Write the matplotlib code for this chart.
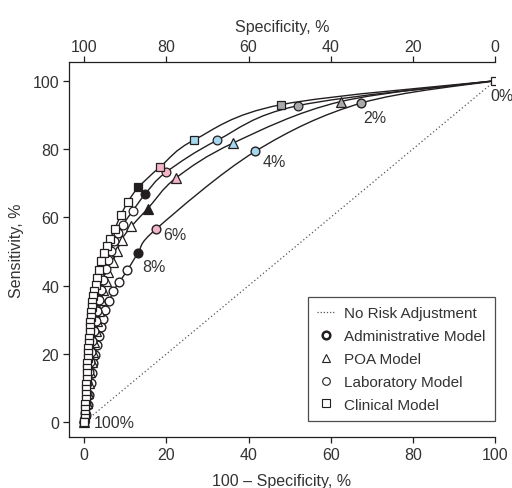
import matplotlib
matplotlib.use("Agg")
import matplotlib.pyplot as plt
from matplotlib.path import Path
from matplotlib.patches import PathPatch
from matplotlib.lines import Line2D

plt.rcParams['font.family'] = ['Liberation Sans', 'DejaVu Sans']

# ---- data: (100 - specificity, sensitivity), from threshold 0% down to 100%
adm_x = [100, 67.5, 41.6, 17.5, 13.1, 10.5, 8.5, 7.1, 6.1, 5.1, 4.5, 4.0, 3.5, 3.1, 2.7, 2.2, 1.9, 1.6, 1.2, 1.0, 0.5, 0]
adm_y = [100, 93.5, 79.3, 56.6, 49.5, 44.5, 41.0, 38.4, 35.4, 32.9, 30.2, 27.8, 25.4, 22.7, 19.7, 17.3, 14.3, 11.4, 7.9, 5.0, 2.0, 0]

poa_x = [100, 62.4, 36.3, 22.3, 15.5, 11.5, 9.1, 8.0, 6.9, 5.9, 5.2, 4.6, 4.1, 3.6, 3.2, 2.8, 2.4, 2.1, 1.8, 1.5, 1.2, 0.9, 0.6, 0.3, 0]
poa_y = [100, 93.9, 81.8, 71.5, 62.6, 57.4, 53.5, 50.1, 46.9, 44.0, 41.4, 38.7, 35.7, 32.6, 29.6, 26.6, 23.6, 20.6, 17.6, 14.6, 11.6, 8.6, 5.6, 2.6, 0]

lab_x = [100, 52.0, 32.4, 19.9, 14.9, 11.8, 9.4, 8.2, 7.3, 6.5, 5.8, 5.2, 4.6, 4.1, 3.6, 3.2, 2.8, 2.4, 2.0, 1.7, 1.4, 1.1, 0.8, 0.6, 0.4, 0.2, 0]
lab_y = [100, 92.7, 82.6, 73.2, 66.9, 61.9, 57.8, 55.4, 53.0, 50.3, 47.6, 44.8, 41.8, 38.8, 35.8, 32.7, 29.7, 26.7, 23.7, 20.6, 17.6, 14.6, 11.6, 8.6, 5.6, 2.6, 0]

cln_x = [100, 47.9, 26.8, 18.5, 13.2, 10.6, 8.9, 7.4, 6.3, 5.5, 4.8, 4.2, 3.7, 3.2, 2.8, 2.4,
         2.2, 2.0, 1.9, 1.7, 1.6, 1.5, 1.4, 1.3, 1.2, 1.1, 1.0, 0.9, 0.85, 0.8, 0.7, 0.65,
         0.6, 0.5, 0.45, 0.4, 0.35, 0.3, 0.2, 0.15, 0.1, 0]
cln_y = [100, 93.0, 82.7, 74.8, 68.8, 64.5, 60.6, 56.5, 53.6, 51.6, 49.7, 47.2, 44.7, 42.3, 40.3, 38.4,
         36.9, 35.3, 33.8, 32.3, 30.8, 29.3, 27.8, 26.3, 24.8, 23.3, 21.8, 20.3, 18.8, 17.3, 15.8, 14.3,
         12.8, 11.3, 9.8, 8.3, 6.8, 5.3, 3.8, 2.3, 1.2, 0]

point_labels = ['0%', '2%', '4%', '6%', '8%', '100%']

# colours for threshold 0%, 2%, 4%, 6%, 8%; all others open
hl_colors = ['white', '#a7a9ac', '#a5d8ee', '#f5b5c8', '#231f20']
EDGE = '#231f20'
TXT = '#333333'

fig = plt.figure(figsize=(5.12, 4.89), dpi=100)
ax = fig.add_axes([69/512, 1-438/489, (495-69)/512, (438-63)/489])


def smooth_path(xs, ys):
    pts = list(zip(xs, ys))
    n = len(pts)
    verts = [pts[0]]
    codes = [Path.MOVETO]
    for i in range(n - 1):
        p0 = pts[i - 1] if i > 0 else pts[i]
        p1 = pts[i]
        p2 = pts[i + 1]
        p3 = pts[i + 2] if i + 2 < n else pts[i + 1]
        c1 = (p1[0] + (p2[0] - p0[0]) / 6, p1[1] + (p2[1] - p0[1]) / 6)
        c2 = (p2[0] - (p3[0] - p1[0]) / 6, p2[1] - (p3[1] - p1[1]) / 6)
        verts += [c1, c2, p2]
        codes += [Path.CURVE4] * 3
    return Path(verts, codes)


# diagonal (no risk adjustment)
ax.plot([0, 100], [0, 100], ls=(0, (1, 2)), color='#555555', lw=0.9, zorder=1)

series = [(adm_x, adm_y, 'o', 1.0), (poa_x, poa_y, '^', 0.9),
          (lab_x, lab_y, 'o', 0.9), (cln_x, cln_y, 's', 0.9)]

for xs, ys, mk, ew in series:
    ax.add_patch(PathPatch(smooth_path(xs, ys), fc='none', ec=EDGE, lw=1.0, zorder=2))

z = 3
for xs, ys, mk, ew in series:
    ms = 6.3 if mk != '^' else 6.6
    # open markers (thresholds > 8%)
    ax.plot(xs[5:], ys[5:], ls='none', marker=mk, ms=ms, mfc='white', mec=EDGE, mew=ew, zorder=z)
    for i in range(1, 5):
        ax.plot([xs[i]], [ys[i]], ls='none', marker=mk, ms=ms, mfc=hl_colors[i], mec=EDGE,
                mew=ew, zorder=z + 0.5)
    z += 1

# common end points
ax.plot([cln_x[0]], [cln_y[0]], ls='none', marker='s', ms=6.3, mfc='white', mec=EDGE, mew=0.9, zorder=10)
ax.plot([cln_x[-1]], [cln_y[-1]], ls='none', marker='s', ms=6.3, mfc='white', mec=EDGE, mew=0.9, zorder=10)

# threshold labels
fs_lab = 11.5
ax.annotate(point_labels[0], (cln_x[0], cln_y[0]), xytext=(-5, -15), textcoords='offset pixels',
            ha='left', va='center', fontsize=fs_lab, color=TXT)
ax.annotate(point_labels[1], (adm_x[1], adm_y[1]), xytext=(13, -15), textcoords='offset pixels',
            ha='center', va='center', fontsize=fs_lab, color=TXT)
ax.annotate(point_labels[2], (adm_x[2], adm_y[2]), xytext=(19, -10), textcoords='offset pixels',
            ha='center', va='center', fontsize=fs_lab, color=TXT)
ax.annotate(point_labels[3], (adm_x[3], adm_y[3]), xytext=(19, -5), textcoords='offset pixels',
            ha='center', va='center', fontsize=fs_lab, color=TXT)
ax.annotate(point_labels[4], (adm_x[4], adm_y[4]), xytext=(16, -13), textcoords='offset pixels',
            ha='center', va='center', fontsize=fs_lab, color=TXT)
ax.annotate(point_labels[5], (cln_x[-1], cln_y[-1]), xytext=(10, 0), textcoords='offset pixels',
            ha='left', va='center', fontsize=fs_lab, color=TXT)

# axes
ax.set_xlim(-3.7, 100)
ax.set_ylim(-4.3, 105.5)
ticks = [0, 20, 40, 60, 80, 100]
ax.set_xticks(ticks)
ax.set_yticks(ticks)
ax.spines['right'].set_visible(False)
ax.spines['top'].set_visible(False)
for s in ['left', 'bottom']:
    ax.spines[s].set_color(EDGE)
    ax.spines[s].set_linewidth(0.9)
ax.tick_params(direction='out', length=4, width=0.9, color=EDGE, labelcolor=TXT, labelsize=11.5, pad=3)
ax.set_xlabel('100 – Specificity, %', fontsize=11.5, color=TXT, labelpad=8)
ax.set_ylabel('Sensitivity, %', fontsize=11.5, color=TXT, labelpad=6)

sec = ax.secondary_xaxis('top', functions=(lambda v: 100 - v, lambda v: 100 - v))
sec.set_xticks(ticks)
sec.tick_params(direction='out', length=4, width=0.9, color=EDGE, labelcolor=TXT, labelsize=11.5, pad=1.5)
sec.spines['top'].set_color(EDGE)
sec.spines['top'].set_linewidth(0.9)
sec.set_xlabel('Specificity, %', fontsize=11.5, color=TXT, labelpad=6)

# legend
handles = [
    Line2D([], [], ls=(0, (1, 1.5)), color='#555555', lw=0.9),
    Line2D([], [], ls='none', marker='o', ms=5.5, mfc='white', mec=EDGE, mew=1.8),
    Line2D([], [], ls='none', marker='^', ms=5.5, mfc='white', mec=EDGE, mew=0.8),
    Line2D([], [], ls='none', marker='o', ms=5.5, mfc='white', mec=EDGE, mew=0.8),
    Line2D([], [], ls='none', marker='s', ms=5.5, mfc='white', mec=EDGE, mew=0.8),
]
labels = ['No Risk Adjustment', 'Administrative Model', 'POA Model', 'Laboratory Model', 'Clinical Model']
leg = ax.legend(handles, labels, loc='lower right', bbox_to_anchor=(1.0, 0.043), fontsize=11,
                frameon=True, fancybox=False, edgecolor=EDGE, handlelength=1.2, handletextpad=0.6,
                labelspacing=0.58, borderpad=0.6, borderaxespad=0)
leg.get_frame().set_linewidth(0.9)
for t in leg.get_texts():
    t.set_color(TXT)

fig.savefig('out.png', dpi=100)
